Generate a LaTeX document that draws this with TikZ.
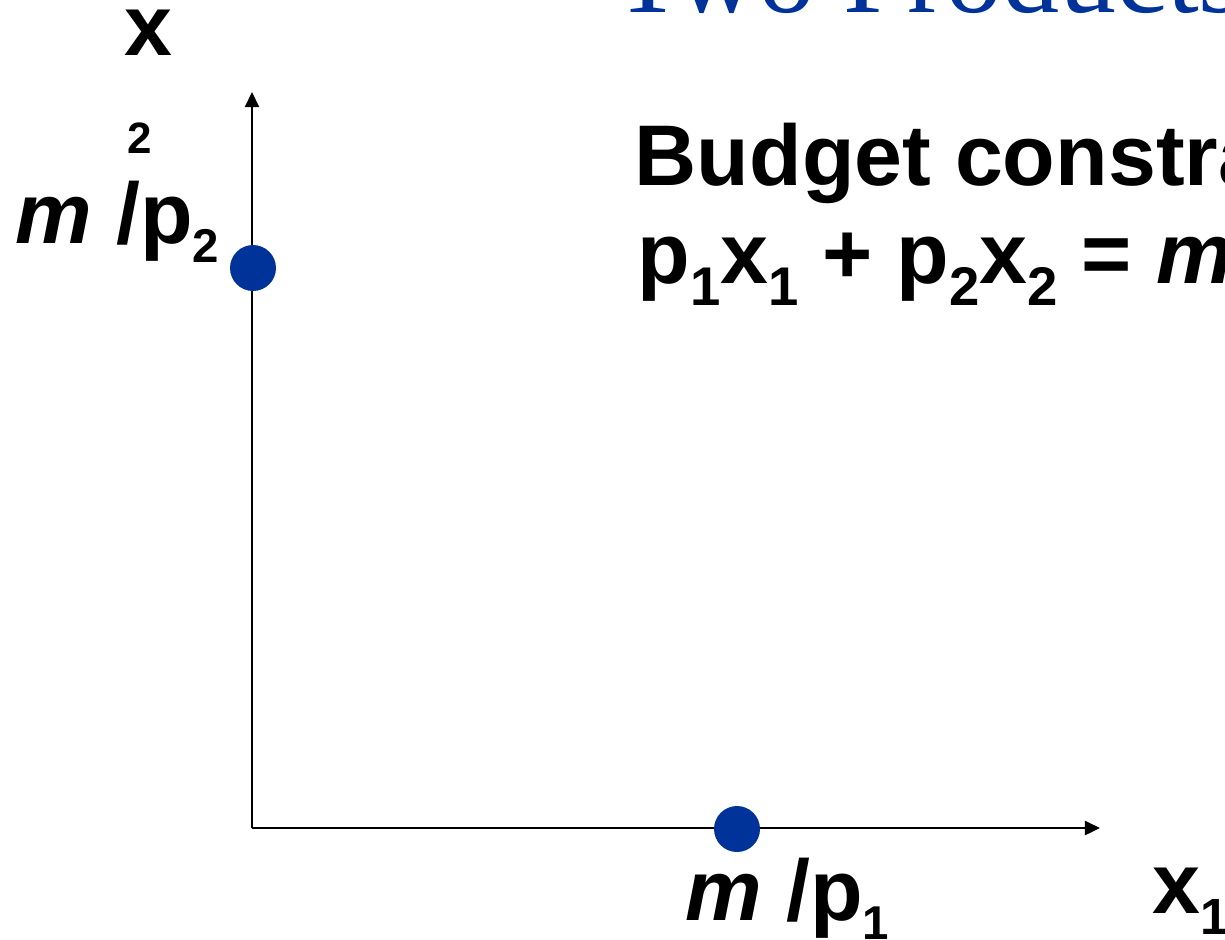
\documentclass[tikz,border=0pt]{standalone}
\usepackage{fontspec}
\setmainfont{Liberation Sans}
\newfontfamily\titlefont{Liberation Serif}
\usetikzlibrary{arrows.meta}
\definecolor{dotblue}{RGB}{0,51,153}
\newcommand{\lo}[2][13.5]{{\fontsize{#1}{#1}\selectfont\raisebox{-0.42em}{#2}}}
\tikzset{
  lbl/.style={font=\fontsize{24.5}{29}\selectfont\bfseries, inner sep=0pt, anchor=base west},
  pt/.style={circle, fill=dotblue, inner sep=0pt, minimum size=4.6mm},
  axis/.style={line width=0.7pt, -{Triangle[length=4.3pt,width=4pt]}}
}

\begin{document}
\begin{tikzpicture}[x=0.1mm,y=-0.1mm]
  \useasboundingbox (0,0) rectangle (1225,939);
  \clip (0,0) rectangle (1225,939);
  % title, cut by the top edge
  \node[anchor=base west, inner sep=0pt, text=dotblue, font=\titlefont\fontsize{32.5}{38}\selectfont] (title) at (613,12) {Two Products};
  % axes
  \coordinate (o) at (252,828);
  \coordinate (ytip) at (252,92);
  \coordinate (xtip) at (1100,828);
  \draw[axis] (o) -- (ytip);
  \draw[axis] (o) -- (xtip);
  % intercepts
  \node[pt] (ydot) at (253,268) {};
  \node[pt] (xdot) at (737,829) {};
  % labels
  \node[lbl] (ylab) at (124,55) {x};
  \node[lbl, anchor=base, font=\fontsize{12.5}{14}\selectfont\bfseries] (ylabsub) at (140,153) {2};
  \node[lbl] (ydotlab) at (15,243) {\textit{m} /p\lo{2}};
  \node[lbl] (xdotlab) at (685,920) {\textit{m} /p\lo{1}};
  \node[lbl] (xlab) at (1152,913) {x\lo[14.5]{1}};
  % budget constraint
  \node[lbl] (bc) at (634,185) {Budget constraint};
  \node[lbl] (eq) at (637,283) {p\lo[15.5]{1}x\lo[15.5]{1} + p\lo[15.5]{2}x\lo[15.5]{2} = \textit{m}};
\end{tikzpicture}
\end{document}
